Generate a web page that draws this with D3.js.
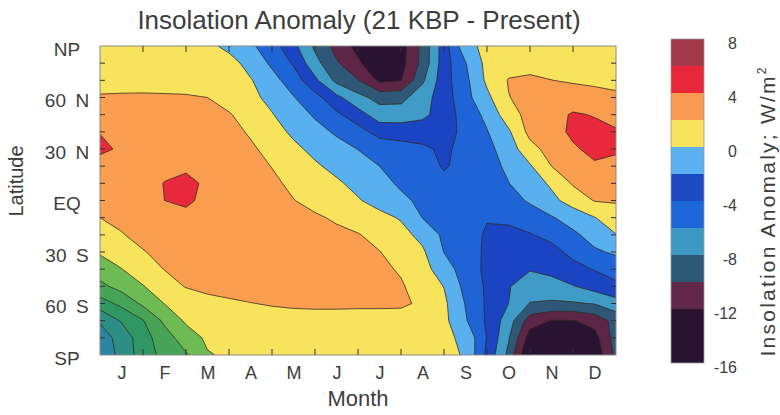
<!DOCTYPE html>
<html>
<head>
<meta charset="utf-8">
<script src="https://cdn.jsdelivr.net/npm/d3@7"></script>
<style>
  body { margin: 0; background: #fff; }
  svg { display: block; font-family: "Liberation Sans", Arial, Helvetica, sans-serif; }
</style>
</head>
<body>
<svg id="chart" width="780" height="415"></svg>
<script>
// grid rows (top to bottom) and columns (month position, 0 = left edge, 12 = right edge)
const latitudes = [90, 80, 70, 60, 50, 40, 30, 20, 10, 0, -10, -20, -30, -40, -50, -60, -70, -80, -90];
const gridMonths = [0, 0.5, 1, 1.5, 2, 2.5, 3, 3.5, 4, 4.5, 5, 5.5, 6, 6.5, 7, 7.5, 8, 8.5, 9, 9.5, 10, 10.5, 11, 11.5, 12];

// insolation anomaly, W/m2 (one row per latitude)
const anomaly = [
  [0.3, 0.3, 0.3, 0.3, 0.3, 0.5, -0.55, -1.63, -3.17, -5.44, -8.38, -10.71, -12.64, -15.0, -12.9, -9.4, -5.0, -0.6, 0.5, 0.4, 0.3, 0.3, 0.3, 0.3, 0.3],
  [0.6, 0.6, 0.65, 0.7, 0.8, 0.9, 0.8, -0.75, -2.33, -4.23, -7.33, -9.74, -11.65, -13.9, -12.76, -9.4, -4.92, -2.1, 0.6, 1.3, 1.4, 1.3, 1.1, 0.9, 0.8],
  [1.4, 1.4, 1.45, 1.5, 1.55, 1.5, 0.9, 0.15, -1.36, -2.93, -5.56, -8.53, -9.88, -12.4, -12.1, -8.33, -4.81, -2.5, 0.4, 2.1, 2.3, 2.02, 1.8, 1.6, 1.4],
  [2.15, 2.2, 2.2, 2.15, 2.1, 2.0, 1.23, 0.47, -0.52, -1.9, -3.29, -5.5, -7.38, -8.7, -8.6, -6.83, -5.0, -2.65, -0.48, 1.94, 2.6, 2.8, 2.9, 2.7, 2.4],
  [3.0, 3.1, 3.1, 3.1, 3.0, 2.7, 2.15, 1.18, 0.1, -1.05, -2.25, -3.6, -5.2, -7.0, -7.0, -6.5, -5.0, -3.2, -1.5, 1.1, 2.7, 3.3, 4.2, 3.9, 3.3],
  [3.95, 3.7, 3.5, 3.4, 3.3, 3.0, 2.6, 1.78, 0.7, -0.34, -1.32, -2.28, -3.2, -4.8, -4.9, -4.8, -5.0, -3.34, -2.1, -0.3, 2.6, 3.4, 4.3, 4.5, 4.2],
  [4.3, 3.8, 3.6, 3.5, 3.5, 3.2, 2.9, 2.3, 1.4, 0.4, -0.47, -1.25, -2.04, -2.7, -3.2, -3.7, -4.3, -3.5, -2.6, -1.0, 1.3, 2.8, 3.8, 4.4, 4.3],
  [3.4, 3.3, 3.4, 3.6, 3.8, 3.5, 3.1, 2.6, 1.95, 1.1, 0.25, -0.5, -1.2, -2.0, -2.6, -3.3, -4.15, -3.5, -2.8, -1.6, -0.2, 2.0, 3.3, 3.8, 3.4],
  [3.0, 3.1, 3.4, 4.05, 4.3, 3.8, 3.4, 2.9, 2.35, 1.63, 0.95, 0.27, -0.52, -1.38, -2.3, -3.0, -3.6, -3.4, -2.8, -2.05, -0.95, 0.3, 2.2, 3.0, 2.7],
  [2.6, 2.9, 3.4, 4.0, 4.2, 3.7, 3.5, 3.1, 2.7, 2.05, 1.43, 0.79, 0.15, -0.7, -1.6, -2.4, -3.0, -3.5, -3.6, -2.9, -1.7, -0.5, 0.8, 2.1, 2.2],
  [2.0, 2.4, 2.9, 3.3, 3.7, 3.5, 3.4, 3.2, 3.0, 2.6, 2.25, 1.76, 1.15, 0.55, -0.17, -2.04, -2.9, -3.5, -3.9, -3.7, -3.2, -2.17, -1.1, -0.07, 1.0],
  [1.3, 1.9, 2.5, 2.9, 3.2, 3.3, 3.3, 3.3, 3.2, 3.0, 2.75, 2.4, 2.1, 1.4, 0.62, -0.56, -2.4, -3.3, -4.2, -4.4, -4.1, -3.5, -2.4, -1.2, -0.05],
  [0.2, 1.0, 1.9, 2.5, 2.8, 3.0, 3.1, 3.1, 3.1, 3.05, 3.0, 2.8, 2.5, 2.05, 1.2, 0.3, -2.05, -3.2, -4.3, -5.0, -5.0, -4.6, -3.5, -2.3, -1.7],
  [-1.0, -0.05, 1.1, 2.05, 2.5, 2.8, 2.9, 3.0, 3.05, 3.05, 3.0, 2.9, 2.7, 2.4, 1.8, 0.7, -1.0, -3.0, -4.4, -5.6, -5.9, -5.5, -4.6, -3.9, -3.2],
  [-2.5, -1.3, -0.1, 1.2, 2.1, 2.5, 2.7, 2.8, 2.85, 2.9, 2.9, 2.8, 2.7, 2.5, 2.2, 1.1, -0.05, -2.6, -4.3, -5.9, -6.8, -6.7, -6.1, -5.2, -4.4],
  [-4.9, -3.5, -1.6, 0.05, 0.9, 1.4, 1.7, 1.95, 2.15, 2.3, 2.35, 2.35, 2.3, 2.3, 2.3, 1.7, 0.4, -2.1, -4.3, -6.0, -8.1, -8.3, -8.2, -7.9, -6.8],
  [-7.8, -5.8, -4.1, -1.6, 0.3, 0.8, 1.0, 1.1, 1.2, 1.25, 1.3, 1.3, 1.3, 1.3, 1.2, 1.0, 0.5, -1.8, -4.3, -7.0, -11.0, -12.1, -12.1, -11.2, -9.3],
  [-8.9, -7.3, -4.8, -2.9, -1.0, 0.35, 0.4, 0.4, 0.4, 0.4, 0.4, 0.4, 0.4, 0.4, 0.4, 0.4, 0.4, -0.4, -4.1, -7.8, -13.0, -14.0, -14.0, -12.8, -9.0],
  [-9.5, -7.4, -5.0, -3.4, -2.2, -0.15, 0.3, 0.3, 0.3, 0.3, 0.3, 0.3, 0.3, 0.3, 0.3, 0.3, 0.3, -0.1, -4.5, -8.5, -14.5, -15.5, -15.5, -13.5, -9.5]
];

const levels = [-12, -10, -8, -6, -4, -2, 0, 2, 4, 6];
const belowColor = '#2a1232';
const levelColors = ['#5e2646', '#2f5878', '#3e9cc6', '#1a44c2', '#1f64d6', '#58b0ef', '#f8e35c', '#f99d4f', '#e8293b', '#a33a4c'];
// the south polar corner at the start of the year is painted in greens in the original
const cornerColors = ['#2a7a9a', '#2d84a2', '#2c8e84', '#2f9764', '#46a457', '#6dbb52', '#f8e35c', '#f99d4f', '#e8293b', '#a33a4c'];

const monthLabels = ['J', 'F', 'M', 'A', 'M', 'J', 'J', 'A', 'S', 'O', 'N', 'D'];
const monthCenters = [0.5, 1.5, 2.5, 3.5, 4.5, 5.5, 6.5, 7.5, 8.5, 9.5, 10.5, 11.5];
const monthTicks = [1, 2, 3, 4, 5, 6, 7, 8, 9, 10, 11];
const latTicks = [90, 60, 30, 0, -30, -60, -90];
const latLabels = ['NP', '60\u2002N', '30\u2002N', 'EQ', '30\u2002S', '60\u2002S', 'SP'];
const latMinorTicks = [80, 70, 60, 50, 40, 30, 20, 10, 0, -10, -20, -30, -40, -50, -60, -70, -80];

const keyBounds = [-16, -12, -10, -8, -6, -4, -2, 0, 2, 4, 6, 8];
const keyColors = ['#2a1232', '#62284a', '#2e5878', '#3b99c4', '#1b66d8', '#1d4ac2', '#5ab0f0', '#f8e35c', '#f99a50', '#e8283a', '#a33a4c'];
const keyTicks = [8, 4, 0, -4, -8, -12, -16];

const textColor = '#3d3d3d';
const plot = { left: 100, right: 616, top: 46, bottom: 355 };

const svg = d3.select('#chart');

const x = d3.scaleLinear().domain([0, 12]).range([plot.left, plot.right]);
const y = d3.scaleLinear().domain([90, -90]).range([plot.top, plot.bottom]);

const nx = gridMonths.length, ny = latitudes.length;
// d3.contours puts sample i at grid coordinate i + 0.5
const colToMonth = d3.scaleLinear().domain([0.5, nx - 0.5]).range([gridMonths[0], gridMonths[nx - 1]]);
const rowToLat = d3.scaleLinear().domain([0.5, ny - 0.5]).range([latitudes[0], latitudes[ny - 1]]);
const path = d3.geoPath(d3.geoTransform({
    point(gx, gy) { this.stream.point(x(colToMonth(gx)), y(rowToLat(gy))); }
}));

const bands = d3.contours().size([nx, ny]).thresholds(levels)(anomaly.flat());

const defs = svg.append('defs');
defs.append('clipPath').attr('id', 'plot-clip').append('rect')
    .attr('x', plot.left).attr('y', plot.top)
    .attr('width', plot.right - plot.left).attr('height', plot.bottom - plot.top);
// keep the corner clip on whole pixels so its edge leaves no seam
const cornerTop = Math.round(y(-25));
defs.append('clipPath').attr('id', 'corner-clip').append('rect')
    .attr('x', plot.left).attr('y', cornerTop)
    .attr('width', Math.round(x(4)) - plot.left).attr('height', plot.bottom - cornerTop);

const field = svg.append('g').attr('clip-path', 'url(#plot-clip)');

field.append('rect')
    .attr('x', plot.left).attr('y', plot.top)
    .attr('width', plot.right - plot.left).attr('height', plot.bottom - plot.top)
    .attr('fill', belowColor);

function drawBands(g, colors) {
    g.selectAll('path.band')
        .data(bands)
        .join('path')
        .attr('class', 'band')
        .attr('d', path)
        .attr('fill', (d, i) => colors[i]);
}

drawBands(field.append('g'), levelColors);
drawBands(field.append('g').attr('clip-path', 'url(#corner-clip)'), cornerColors);

// contour lines
field.append('g')
    .selectAll('path')
    .data(bands)
    .join('path')
    .attr('d', path)
    .attr('fill', 'none')
    .attr('stroke', '#32261e')
    .attr('stroke-width', 0.9)
    .attr('stroke-opacity', 0.85);

// frame
svg.append('rect')
    .attr('x', plot.left).attr('y', plot.top)
    .attr('width', plot.right - plot.left).attr('height', plot.bottom - plot.top)
    .attr('fill', 'none').attr('stroke', '#8a8a8a').attr('stroke-width', 1);

// inward ticks on all four sides
const ticks = svg.append('g').attr('stroke', '#333').attr('stroke-width', 1);
ticks.selectAll('line.top').data(monthTicks).join('line').attr('class', 'top')
    .attr('x1', d => x(d)).attr('x2', d => x(d)).attr('y1', plot.top).attr('y2', plot.top + 6);
ticks.selectAll('line.bottom').data(monthTicks).join('line').attr('class', 'bottom')
    .attr('x1', d => x(d)).attr('x2', d => x(d)).attr('y1', plot.bottom - 6).attr('y2', plot.bottom);
ticks.selectAll('line.left').data(latMinorTicks).join('line').attr('class', 'left')
    .attr('x1', plot.left).attr('x2', plot.left + 5).attr('y1', d => y(d)).attr('y2', d => y(d));
ticks.selectAll('line.right').data(latMinorTicks).join('line').attr('class', 'right')
    .attr('x1', plot.right - 5).attr('x2', plot.right).attr('y1', d => y(d)).attr('y2', d => y(d));

// month labels
svg.append('g')
    .attr('transform', `translate(0,${plot.bottom})`)
    .call(d3.axisBottom(x).tickValues(monthCenters).tickFormat((d, i) => monthLabels[i]).tickSize(0).tickPadding(11))
    .call(g => g.select('.domain').remove())
    .attr('font-family', null)
    .attr('font-size', 18)
    .selectAll('text').attr('fill', textColor);

// latitude labels
svg.append('g')
    .selectAll('text')
    .data(latTicks)
    .join('text')
    .attr('x', 67)
    .attr('y', d => y(d) + 3)
    .attr('text-anchor', 'middle')
    .attr('dominant-baseline', 'central')
    .attr('font-size', 19)
    .attr('fill', textColor)
    .text((d, i) => latLabels[i]);

// titles
svg.append('text')
    .attr('x', 359).attr('y', 29)
    .attr('text-anchor', 'middle')
    .attr('font-size', 26)
    .attr('fill', textColor)
    .text('Insolation Anomaly (21 KBP - Present)');

svg.append('text')
    .attr('x', 358).attr('y', 406)
    .attr('text-anchor', 'middle')
    .attr('font-size', 22)
    .attr('fill', textColor)
    .text('Month');

svg.append('text')
    .attr('transform', 'translate(23,181) rotate(-90)')
    .attr('text-anchor', 'middle')
    .attr('font-size', 20)
    .attr('fill', textColor)
    .text('Latitude');

// colour key
const cbX = 671, cbW = 33;
const cbY = d3.scaleLinear().domain([-16, 8]).range([363, 39]);
const key = svg.append('g');
key.selectAll('rect')
    .data(keyColors)
    .join('rect')
    .attr('x', cbX)
    .attr('y', (d, i) => cbY(keyBounds[i + 1]))
    .attr('width', cbW)
    .attr('height', (d, i) => cbY(keyBounds[i]) - cbY(keyBounds[i + 1]))
    .attr('fill', d => d);
key.append('rect')
    .attr('x', cbX).attr('y', cbY(8)).attr('width', cbW).attr('height', cbY(-16) - cbY(8))
    .attr('fill', 'none').attr('stroke', '#9a9a9a').attr('stroke-width', 0.8);
key.selectAll('text')
    .data(keyTicks)
    .join('text')
    .attr('x', 737)
    .attr('y', d => cbY(d) + 4)
    .attr('text-anchor', 'end')
    .attr('dominant-baseline', 'central')
    .attr('font-size', 16)
    .attr('fill', textColor)
    .text(d => d);

const keyTitle = svg.append('text')
    .attr('transform', 'translate(775,212) rotate(-90)')
    .attr('text-anchor', 'middle')
    .attr('font-size', 21)
    .attr('fill', textColor);
keyTitle.append('tspan')
    .attr('textLength', 280)
    .attr('lengthAdjust', 'spacing')
    .text('Insolation Anomaly; W/m');
keyTitle.append('tspan')
    .attr('dy', -9)
    .attr('font-size', 12)
    .text('2');
</script>
</body>
</html>
